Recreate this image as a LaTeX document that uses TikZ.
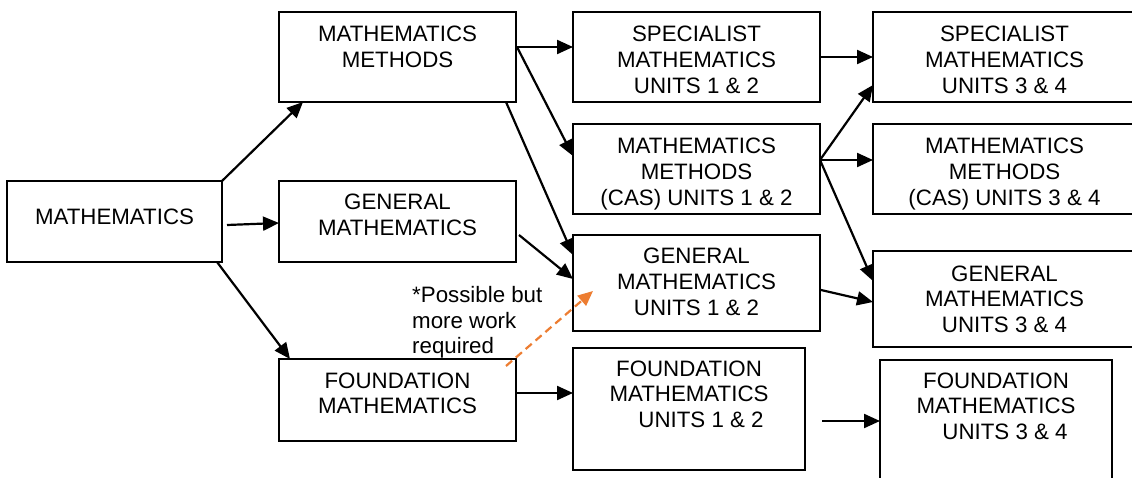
\documentclass[tikz,border=0pt]{standalone}
\usepackage{fontspec}
\setmainfont{Liberation Sans}
\usetikzlibrary{arrows.meta,calc}
\definecolor{orangec}{HTML}{ED7D31}
\newcommand\bxt[4]{\parbox[c][#2pt][t]{#1pt}{\centering\rule{0pt}{#3pt}#4}}
\tikzset{
  boxnode/.style={draw=black, line width=1.4pt, rectangle, inner sep=0pt, outer sep=0pt, anchor=north west},
  arr/.style={line width=2.2pt, -{Triangle[length=16pt,width=14pt]}},
  oarr/.style={line width=2.2pt, draw=orangec, dash pattern=on 8pt off 5pt, -{Triangle[length=15pt,width=13pt,fill=orangec]}},
  every node/.style={font=\fontsize{22.3}{25.8}\selectfont}
}
\begin{document}
\begin{tikzpicture}[x=1pt,y=-1pt]
\useasboundingbox[fill=white] (0,0) rectangle (1132,478);
\node[boxnode] (math) at (7,181) {\bxt{215}{81}{44}{MATHEMATICS}};
\node[boxnode] (mm) at (279,12) {\bxt{237}{90}{30}{MATHEMATICS\\METHODS}};
\node[boxnode] (gen) at (279,181) {\bxt{237}{81}{29}{GENERAL\\MATHEMATICS}};
\node[boxnode] (found) at (279,359) {\bxt{237}{82}{29}{FOUNDATION\\MATHEMATICS}};
\node[boxnode] (spec12) at (573,12) {\bxt{247}{90}{30}{SPECIALIST\\MATHEMATICS\\UNITS 1 \& 2}};
\node[boxnode] (cas12) at (573,124) {\bxt{247}{90}{30}{MATHEMATICS\\METHODS\\(CAS) UNITS 1 \& 2}};
\node[boxnode] (gen12) at (573,235) {\bxt{247}{96}{29}{GENERAL\\MATHEMATICS\\UNITS 1 \& 2}};
\node[boxnode] (found12) at (573,348) {\bxt{232}{122}{28}{FOUNDATION\\MATHEMATICS\\\hspace*{24pt}UNITS 1 \& 2}};
\node[boxnode] (spec34) at (873,12) {\bxt{263}{90}{30}{SPECIALIST\\MATHEMATICS\\UNITS 3 \& 4}};
\node[boxnode] (cas34) at (873,124) {\bxt{263}{90}{30}{MATHEMATICS\\METHODS\\(CAS) UNITS 3 \& 4}};
\node[boxnode] (gen34) at (873,251) {\bxt{263}{96}{30}{GENERAL\\MATHEMATICS\\UNITS 3 \& 4}};
\node[boxnode] (found34) at (880,360) {\bxt{232}{122}{28}{FOUNDATION\\MATHEMATICS\\\hspace*{18pt}UNITS 3 \& 4}};
\node[anchor=north west, inner sep=0pt] (note) at (412,282) {\parbox[t]{160pt}{\raggedright\rule{0pt}{20pt}*Possible but\\more work\\required}};
% arrows
\draw[arr] (math.north east) -- ($(mm.south west)+(24,0)$);
\draw[arr] ($(math.east)+(5,3.5)$) -- ($(gen.west)+(0,1.5)$);
\draw[arr] ($(math.south east)+(-5,0)$) -- ($(found.north west)+(11,0)$);
\draw[arr] ($(mm.north east)+(1,35)$) -- ($(spec12.north west)+(0,35)$);
\draw[arr] ($(mm.north east)+(1,35)$) -- ($(cas12.north west)+(0,32)$);
\draw[arr] ($(mm.south east)+(-10,0)$) -- ($(gen12.north west)+(0,20)$);
\draw[arr] ($(gen.north east)+(3,54)$) -- ($(gen12.north west)+(0,44)$);
\draw[arr] ($(found.north east)+(1,34)$) -- ($(found12.north west)+(0,45)$);
\draw[oarr] ($(found.north east)+(-10,7)$) -- ($(gen12.north west)+(20,56)$);
\draw[arr] ($(spec12.north east)+(1,45)$) -- ($(spec34.north west)+(0,45)$);
\coordinate (c) at ($(cas12.north east)+(0,36)$);
\draw[arr] (c) -- ($(spec34.south west)+(0,-17)$);
\draw[arr] (c) -- ($(cas34.north west)+(0,36)$);
\draw[arr] (c) -- ($(gen34.north west)+(0,30)$);
\draw[arr] ($(gen12.north east)+(1,55)$) -- ($(gen34.north west)+(0,51)$);
\draw[arr] ($(found12.north east)+(17,73)$) -- ($(found34.north west)+(0,61)$);
\end{tikzpicture}
\end{document}
